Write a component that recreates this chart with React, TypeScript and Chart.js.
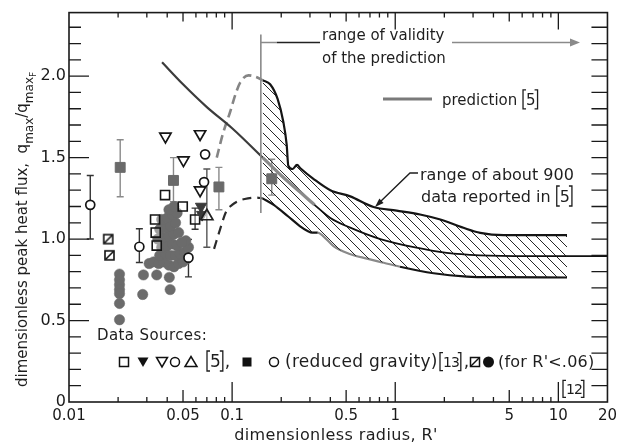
import React, { useEffect, useRef } from 'react';
import { Chart, registerables } from 'chart.js';

Chart.register(...registerables);

const FONT = '"DejaVu Sans", "Liberation Sans", sans-serif';

// ---- axes ----
const xTickValues = [0.01, 0.05, 0.1, 0.5, 1, 5, 10, 20];
const xTickLabels = ['0.01', '0.05', '0.1', '0.5', '1', '5', '10', '20'];
const yTickValues = [0, 0.5, 1.0, 1.5, 2.0];
const yTickLabels = ['0', '0.5', '1.0', '1.5', '2.0'];
const xShortMarks = [0.02, 0.03, 0.04, 0.06, 0.07, 0.08, 0.09, 0.2, 0.3, 0.4, 0.6, 0.7, 0.8, 0.9, 2, 3, 4, 6, 7, 8, 9];
const xMidMarks = [0.05, 0.5, 5];
const xLongMarks = [0.1, 1, 10];
const yMinorMarks = [0.1, 0.2, 0.3, 0.4, 0.6, 0.7, 0.8, 0.9, 1.1, 1.2, 1.3, 1.4, 1.6, 1.7, 1.8, 1.9, 2.1, 2.2, 2.3];
const yMajorMarks = [0.5, 1.0, 1.5, 2.0];
const validityLimit = 0.15;

// ---- data [R', q/qF] ----
const grayCircles: number[][] = [
  [0.0204, 0.785], [0.0204, 0.75], [0.0204, 0.72], [0.0204, 0.69], [0.0204, 0.665], [0.0204, 0.605], [0.0204, 0.505],
  [0.0283, 0.66], [0.0286, 0.78], [0.0345, 0.78], [0.0417, 0.69], [0.0412, 0.765],
  [0.031, 0.85], [0.033, 0.86], [0.0355, 0.85], [0.038, 0.86], [0.041, 0.84], [0.044, 0.83], [0.047, 0.85], [0.05, 0.86], [0.053, 0.88],
  [0.036, 0.9], [0.039, 0.91], [0.042, 0.9], [0.045, 0.9], [0.048, 0.91], [0.051, 0.92], [0.054, 0.95], [0.052, 0.99],
  [0.037, 0.95], [0.04, 0.96], [0.043, 0.97], [0.046, 0.96], [0.049, 0.98],
  [0.035, 1.0], [0.038, 1.01], [0.041, 1.02], [0.044, 1.03], [0.047, 1.04],
  [0.036, 1.06], [0.039, 1.07], [0.042, 1.08], [0.045, 1.1],
  [0.037, 1.12], [0.04, 1.13], [0.043, 1.15], [0.046, 1.16],
  [0.041, 1.18], [0.044, 1.2],
];
const openSquares: number[][] = [[0.0388, 1.27], [0.0498, 1.2], [0.0337, 1.12], [0.034, 1.04], [0.0345, 0.96], [0.0593, 1.12]];
const openSquareErrLo = [NaN, NaN, NaN, NaN, NaN, 1.06];
const openSquareErrHi = [NaN, NaN, NaN, NaN, NaN, 1.19];
const filledTrianglesDown: number[][] = [[0.0645, 1.2], [0.0655, 1.15]];
const openTrianglesDown: number[][] = [[0.039, 1.63], [0.0636, 1.645], [0.0503, 1.485], [0.0636, 1.3]];
const openCircles: number[][] = [[0.0683, 1.52], [0.0673, 1.35]];
const openTrianglesUp: number[][] = [[0.07, 1.14]];
const openTriangleUpErrLo = [0.95];
const openTriangleUpErrHi = [1.43];
const reducedGravitySquares: number[][] = [[0.0206, 1.44], [0.0437, 1.36], [0.083, 1.32], [0.175, 1.37]];
const reducedGravitySquaresLo = [1.26, 1.23, 1.18, 1.27];
const reducedGravitySquaresHi = [1.61, 1.5, 1.44, 1.49];
const reducedGravityCircles: number[][] = [[0.0135, 1.21], [0.027, 0.953], [0.054, 0.886]];
const reducedGravityCirclesLo = [1.0, 0.856, 0.768];
const reducedGravityCirclesHi = [1.39, 1.063, 0.998];
const hatchedSquares: number[][] = [[0.0174, 1.0], [0.0177, 0.9]];

const prediction: number[][] = [
  [0.0372, 2.085], [0.05, 1.95], [0.07, 1.81], [0.1, 1.68], [0.154, 1.5], [0.2, 1.39], [0.26, 1.29], [0.32, 1.21],
  [0.4, 1.13], [0.53, 1.07], [0.81, 1.0], [1.3, 0.95], [2.07, 0.915], [3.3, 0.9], [6.7, 0.895], [20, 0.895],
];
const upperDashed: number[][] = [[0.0805, 1.5], [0.088, 1.65], [0.0972, 1.78], [0.105, 1.89], [0.112, 1.96], [0.126, 2.005], [0.14, 1.995], [0.154, 1.975]];
const lowerDashed: number[][] = [[0.0775, 0.94], [0.085, 1.07], [0.092, 1.17], [0.1, 1.21], [0.11, 1.235], [0.125, 1.25], [0.14, 1.255], [0.154, 1.25]];
const rangeUpper: number[][] = [
  [0.154, 1.975], [0.171, 1.95], [0.19, 1.86], [0.206, 1.72], [0.216, 1.58], [0.221, 1.45], [0.235, 1.43], [0.25, 1.455],
  [0.262, 1.435], [0.315, 1.37], [0.4, 1.3], [0.53, 1.262], [0.736, 1.197], [1.02, 1.175], [1.42, 1.151], [1.89, 1.12],
  [2.62, 1.069], [3.32, 1.038], [4.62, 1.024], [6.73, 1.024], [11.3, 1.024],
];
const rangeLower: number[][] = [
  [0.154, 1.25], [0.18, 1.21], [0.22, 1.14], [0.26, 1.08], [0.29, 1.05], [0.31, 1.04], [0.335, 1.04], [0.36, 1.02],
  [0.42, 0.955], [0.52, 0.91], [0.67, 0.88], [0.85, 0.855], [1.07, 0.83], [1.72, 0.79], [2.75, 0.77], [4.4, 0.766], [11.3, 0.764],
];

const pts = (a: number[][]) => a.map(([x, y]) => ({ x, y }));

function makeHatch(ctx: CanvasRenderingContext2D) {
  const c = document.createElement('canvas');
  c.width = 10; c.height = 10;
  const g = c.getContext('2d')!;
  g.strokeStyle = '#262626';
  g.lineWidth = 1;
  g.beginPath();
  g.moveTo(0, 0); g.lineTo(10, 10);
  g.moveTo(-5, 5); g.lineTo(5, 15);
  g.moveTo(5, -5); g.lineTo(15, 5);
  g.stroke();
  return ctx.createPattern(c, 'repeat');
}

function makeHatchedSquare() {
  const c = document.createElement('canvas');
  c.width = 13; c.height = 13;
  const g = c.getContext('2d')!;
  g.fillStyle = '#fff';
  g.fillRect(2, 2, 9, 9);
  g.strokeStyle = '#111';
  g.lineWidth = 1.6;
  g.strokeRect(2, 2, 9, 9);
  g.beginPath(); g.moveTo(2.5, 10.5); g.lineTo(10.5, 2.5); g.stroke();
  return c;
}

// reference text like "[5]" with tall thin brackets drawn as strokes
function bracketRef(ctx: CanvasRenderingContext2D, inner: string, x: number, base: number, size: number, h: number) {
  const top = base - h * 0.8;
  const bot = base + h * 0.2;
  ctx.save();
  ctx.lineWidth = 1.3;
  ctx.strokeStyle = ctx.fillStyle as string;
  ctx.beginPath();
  ctx.moveTo(x + 4, top); ctx.lineTo(x + 1, top); ctx.lineTo(x + 1, bot); ctx.lineTo(x + 4, bot);
  ctx.stroke();
  ctx.font = `${size}px ${FONT}`;
  ctx.textAlign = 'left';
  ctx.fillText(inner, x + 4, base);
  const w = ctx.measureText(inner).width;
  const rx = x + 4 + w + 2;
  ctx.beginPath();
  ctx.moveTo(rx - 3, top); ctx.lineTo(rx, top); ctx.lineTo(rx, bot); ctx.lineTo(rx - 3, bot);
  ctx.stroke();
  ctx.restore();
  return rx + 2;
}

const decor = {
  id: 'decor',
  beforeDatasetsDraw(chart: any) {
    const { ctx, scales: { x, y } } = chart;
    chart.data.datasets.forEach((ds: any) => {
      if (!ds.errLo) return;
      ctx.save();
      ctx.strokeStyle = ds.errColor;
      ctx.lineWidth = 1.4;
      ds.data.forEach((p: any, i: number) => {
        if (isNaN(ds.errLo[i])) return;
        const px = x.getPixelForValue(p.x);
        const lo = y.getPixelForValue(ds.errLo[i]);
        const hi = y.getPixelForValue(ds.errHi[i]);
        ctx.beginPath();
        ctx.moveTo(px, lo); ctx.lineTo(px, hi);
        ctx.moveTo(px - 3.5, lo); ctx.lineTo(px + 3.5, lo);
        ctx.moveTo(px - 3.5, hi); ctx.lineTo(px + 3.5, hi);
        ctx.stroke();
      });
      ctx.restore();
    });
  },
  afterDraw(chart: any) {
    const { ctx, chartArea: a, scales: { x, y } } = chart;
    ctx.save();
    // frame
    ctx.strokeStyle = '#1a1a1a';
    ctx.lineWidth = 1.6;
    ctx.strokeRect(a.left, a.top, a.right - a.left, a.bottom - a.top);
    // inward tick marks
    ctx.lineWidth = 1.3;
    ctx.beginPath();
    const markX = (vals: number[], lb: number, lt: number) => vals.forEach((v) => {
      const px = x.getPixelForValue(v);
      ctx.moveTo(px, a.bottom); ctx.lineTo(px, a.bottom - lb);
      ctx.moveTo(px, a.top); ctx.lineTo(px, a.top + lt);
    });
    markX(xShortMarks, 5, 5);
    markX(xMidMarks, 12, 9);
    markX(xLongMarks, 20, 17);
    const markY = (vals: number[], ll: number, lr: number) => vals.forEach((v) => {
      const py = y.getPixelForValue(v);
      ctx.moveTo(a.left, py); ctx.lineTo(a.left + ll, py);
      ctx.moveTo(a.right, py); ctx.lineTo(a.right - lr, py);
    });
    markY(yMinorMarks, 12, 16);
    markY(yMajorMarks, 20, 16);
    ctx.stroke();

    // range of validity
    const vx = x.getPixelForValue(validityLimit);
    ctx.strokeStyle = '#8a8a8a';
    ctx.lineWidth = 1.6;
    ctx.beginPath();
    ctx.moveTo(vx, y.getPixelForValue(2.256)); ctx.lineTo(vx, y.getPixelForValue(1.16));
    ctx.moveTo(vx, 42.5); ctx.lineTo(vx + 16, 42.5);
    ctx.stroke();
    ctx.strokeStyle = '#222';
    ctx.beginPath(); ctx.moveTo(vx + 16, 42.5); ctx.lineTo(320, 42.5); ctx.stroke();
    ctx.strokeStyle = '#8a8a8a';
    ctx.beginPath(); ctx.moveTo(452, 42.5); ctx.lineTo(571, 42.5); ctx.stroke();
    ctx.fillStyle = '#8a8a8a';
    ctx.beginPath(); ctx.moveTo(570, 38.5); ctx.lineTo(580, 42.5); ctx.lineTo(570, 46.5); ctx.closePath(); ctx.fill();

    ctx.fillStyle = '#1e1e1e';
    ctx.textAlign = 'left';
    ctx.textBaseline = 'alphabetic';
    ctx.font = `15px ${FONT}`;
    ctx.fillText('range of validity', 322, 40);
    ctx.fillText('of the prediction', 322, 63);

    // prediction legend
    ctx.strokeStyle = '#7a7a7a';
    ctx.lineWidth = 3;
    ctx.beginPath(); ctx.moveTo(383, 99); ctx.lineTo(432, 99); ctx.stroke();
    ctx.font = `15px ${FONT}`;
    ctx.fillText('prediction', 442, 105);
    bracketRef(ctx, '5', 442 + ctx.measureText('prediction ').width, 105, 15, 19);

    // range of about 900
    ctx.font = `16px ${FONT}`;
    ctx.fillText('range of about 900', 420, 180);
    ctx.font = `16px ${FONT}`;
    ctx.fillText('data reported in', 421, 202);
    bracketRef(ctx, '5', 421 + ctx.measureText('data reported in ').width, 202, 16, 20);
    ctx.strokeStyle = '#1e1e1e';
    ctx.lineWidth = 1.4;
    ctx.beginPath(); ctx.moveTo(418, 173); ctx.lineTo(410, 173); ctx.lineTo(380, 202); ctx.stroke();
    {
      const tx = 375, ty = 207, dx = -0.718, dy = 0.697;
      ctx.beginPath();
      ctx.moveTo(tx, ty);
      ctx.lineTo(tx - 9 * dx - 3 * dy, ty - 9 * dy + 3 * dx);
      ctx.lineTo(tx - 9 * dx + 3 * dy, ty - 9 * dy - 3 * dx);
      ctx.closePath(); ctx.fill();
    }

    // data sources legend
    ctx.font = `15px ${FONT}`;
    (ctx as any).letterSpacing = '0.4px';
    ctx.fillText('Data Sources:', 97, 340);
    (ctx as any).letterSpacing = '0px';
    const cy = 362;
    ctx.lineWidth = 1.5;
    ctx.strokeStyle = '#111';
    ctx.fillStyle = '#111';
    ctx.strokeRect(119.5, cy - 4.5, 9, 9);
    ctx.beginPath(); ctx.moveTo(137.5, cy - 4.5); ctx.lineTo(148.5, cy - 4.5); ctx.lineTo(143, cy + 5); ctx.closePath(); ctx.fill();
    ctx.beginPath(); ctx.moveTo(156.5, cy - 4.5); ctx.lineTo(167.5, cy - 4.5); ctx.lineTo(162, cy + 5); ctx.closePath(); ctx.stroke();
    ctx.beginPath(); ctx.arc(175, cy, 4.5, 0, Math.PI * 2); ctx.stroke();
    ctx.beginPath(); ctx.moveTo(185, cy + 4.5); ctx.lineTo(197, cy + 4.5); ctx.lineTo(191, cy - 5.5); ctx.closePath(); ctx.stroke();
    ctx.fillStyle = '#1e1e1e';
    let ex = bracketRef(ctx, '5', 206, 367, 17, 20);
    ctx.font = `17px ${FONT}`;
    ctx.fillText(',', ex, 367);
    ctx.fillStyle = '#111';
    ctx.fillRect(242.5, cy - 4.5, 9, 9);
    ctx.beginPath(); ctx.arc(274, cy, 4.5, 0, Math.PI * 2); ctx.stroke();
    ctx.fillStyle = '#1e1e1e';
    ctx.font = `17px ${FONT}`;
    (ctx as any).letterSpacing = '0.3px';
    ctx.fillText('(reduced gravity)', 285, 367);
    (ctx as any).letterSpacing = '-1px';
    ex = bracketRef(ctx, '13', 439, 367, 14, 18);
    (ctx as any).letterSpacing = '0px';
    ctx.font = `17px ${FONT}`;
    ctx.fillText(',', ex + 1, 367);
    ctx.strokeStyle = '#111';
    ctx.lineWidth = 1.5;
    ctx.strokeRect(470.5, cy - 4.5, 9, 9);
    ctx.beginPath(); ctx.moveTo(471, cy + 4); ctx.lineTo(479, cy - 4); ctx.stroke();
    ctx.beginPath(); ctx.arc(488.5, cy, 5.5, 0, Math.PI * 2); ctx.fillStyle = '#111'; ctx.fill();
    ctx.fillStyle = '#1e1e1e';
    ctx.font = `16px ${FONT}`;
    (ctx as any).letterSpacing = '0.2px';
    ctx.fillText("(for R'<.06)", 498, 367);
    (ctx as any).letterSpacing = '-1px';
    bracketRef(ctx, '12', 562, 394, 14, 17);
    (ctx as any).letterSpacing = '0px';

    // x title
    ctx.font = `16px ${FONT}`;
    ctx.textAlign = 'center';
    (ctx as any).letterSpacing = '0.4px';
    ctx.fillText("dimensionless radius, R'", 336, 440);
    (ctx as any).letterSpacing = '0px';

    // y title (rotated)
    ctx.save();
    ctx.translate(27, 387);
    ctx.rotate(-Math.PI / 2);
    ctx.textAlign = 'left';
    (ctx as any).letterSpacing = '0px';
    const mainT = 'dimensionless peak heat flux,  ';
    ctx.font = `15px ${FONT}`;
    ctx.fillText(mainT, 0, 0);
    let tx = ctx.measureText(mainT).width;
    ctx.fillText('q', tx, 0); tx += ctx.measureText('q').width;
    ctx.font = `12px ${FONT}`;
    ctx.fillText('max', tx, 6); tx += ctx.measureText('max').width;
    ctx.font = `15px ${FONT}`;
    ctx.fillText('/q', tx, 0); tx += ctx.measureText('/q').width;
    ctx.font = `12px ${FONT}`;
    ctx.fillText('max', tx, 6); tx += ctx.measureText('max').width;
    ctx.font = `9px ${FONT}`;
    ctx.fillText('F', tx, 9);
    ctx.restore();

    ctx.restore();
  },
};

export default function App() {
  const ref = useRef<HTMLCanvasElement>(null);
  useEffect(() => {
    const canvas = ref.current!;
    const c2 = canvas.getContext('2d')!;
    const hatch = makeHatch(c2);
    const hsq = makeHatchedSquare();
    const pointDs = (data: number[][], extra: any) => ({
      data: pts(data), showLine: false, fill: false, ...extra,
    });
    const lineDs = (data: number[][], extra: any) => ({
      data: pts(data), showLine: true, pointRadius: 0, fill: false, cubicInterpolationMode: 'monotone', ...extra,
    });
    const datasets: any[] = [
      pointDs(reducedGravityCircles, { pointStyle: 'circle', pointRadius: 4.5, pointBackgroundColor: '#fff', pointBorderColor: '#151515', pointBorderWidth: 1.7, errLo: reducedGravityCirclesLo, errHi: reducedGravityCirclesHi, errColor: '#333' }),
      pointDs(openCircles, { pointStyle: 'circle', pointRadius: 4.5, pointBackgroundColor: '#fff', pointBorderColor: '#151515', pointBorderWidth: 1.7 }),
      pointDs(hatchedSquares, { pointStyle: hsq, pointRadius: 6 }),
      pointDs(reducedGravitySquares, { pointStyle: 'rect', pointRadius: 7, pointBackgroundColor: '#6a6a6a', pointBorderColor: '#6a6a6a', pointBorderWidth: 1, errLo: reducedGravitySquaresLo, errHi: reducedGravitySquaresHi, errColor: '#8a8a8a' }),
      pointDs(openTrianglesUp, { pointStyle: 'triangle', pointRadius: 7, pointBackgroundColor: 'rgba(255,255,255,0.6)', pointBorderColor: '#222', pointBorderWidth: 1.7, errLo: openTriangleUpErrLo, errHi: openTriangleUpErrHi, errColor: '#555' }),
      pointDs(openTrianglesDown, { pointStyle: 'triangle', pointRotation: 180, pointRadius: 6.5, pointBackgroundColor: '#fff', pointBorderColor: '#151515', pointBorderWidth: 1.7 }),
      pointDs(filledTrianglesDown, { pointStyle: 'triangle', pointRotation: 180, pointRadius: 6.5, pointBackgroundColor: '#3a3a3a', pointBorderColor: '#3a3a3a', pointBorderWidth: 1 }),
      pointDs(openSquares, { pointStyle: 'rect', pointRadius: 6.4, pointBackgroundColor: 'rgba(255,255,255,0.35)', pointBorderColor: '#151515', pointBorderWidth: 1.6, errLo: openSquareErrLo, errHi: openSquareErrHi, errColor: '#333' }),
      pointDs(grayCircles, { pointStyle: 'circle', pointRadius: 5.2, pointBackgroundColor: '#6b6b6b', pointBorderColor: '#6b6b6b', pointBorderWidth: 0.5 }),
      lineDs(prediction, {
        borderColor: '#3c3c3c', borderWidth: 2.2,
        segment: {
          borderColor: (s: any) => (s.p0.parsed.x < 0.15 ? '#3c3c3c' : s.p0.parsed.x < 0.32 ? '#8a8a8a' : '#111'),
          borderWidth: (s: any) => (s.p0.parsed.x < 0.15 ? 2.2 : s.p0.parsed.x < 0.32 ? 3.2 : 1.8),
        },
      }),
      lineDs(upperDashed, { borderColor: '#858585', borderWidth: 2.6, borderDash: [9, 5] }),
      lineDs(lowerDashed, { borderColor: '#2a2a2a', borderWidth: 2.2, borderDash: [9, 6] }),
      lineDs(rangeUpper, { borderColor: '#151515', borderWidth: 2.2, fill: '+1', backgroundColor: hatch }),
      lineDs(rangeLower, {
        borderColor: '#151515', borderWidth: 2.2,
        segment: {
          borderColor: (s: any) => (s.p0.parsed.x >= 0.335 && s.p0.parsed.x < 1.05 ? '#8a8a8a' : '#151515'),
        },
      }),
    ];
    const chart = new Chart(canvas, {
      type: 'line',
      data: { datasets },
      options: {
        responsive: false,
        animation: false,
        devicePixelRatio: 1,
        events: [],
        layout: { padding: { top: 10, right: 13, left: 0, bottom: 0 } },
        plugins: { legend: { display: false }, tooltip: { enabled: false } },
        scales: {
          x: {
            type: 'logarithmic', min: 0.01, max: 20,
            grid: { display: false, drawTicks: false },
            border: { display: false },
            afterBuildTicks: (s: any) => { s.ticks = xTickValues.map((v) => ({ value: v })); },
            afterFit: (s: any) => { s.height = 46; },
            ticks: {
              autoSkip: false, maxRotation: 0, minRotation: 0, padding: 5, color: '#1a1a1a',
              font: { family: FONT, size: 15 },
              callback: (_v: any, i: number) => xTickLabels[i],
            },
          },
          y: {
            type: 'linear', min: 0, max: 2.39,
            grid: { display: false, drawTicks: false },
            border: { display: false },
            afterBuildTicks: (s: any) => { s.ticks = yTickValues.map((v) => ({ value: v })); },
            afterFit: (s: any) => { s.width = 69; },
            ticks: {
              padding: 3, color: '#1a1a1a',
              font: { family: FONT, size: 16 },
              callback: (_v: any, i: number) => yTickLabels[i],
            },
          },
        },
      } as any,
      plugins: [decor as any],
    });
    return () => chart.destroy();
  }, []);
  return (
    <div style={{ position: 'absolute', left: 0, top: 0, width: 622, height: 448, background: '#fff' }}>
      <canvas ref={ref} width={622} height={448} style={{ display: 'block', width: 622, height: 448 }} />
    </div>
  );
}
